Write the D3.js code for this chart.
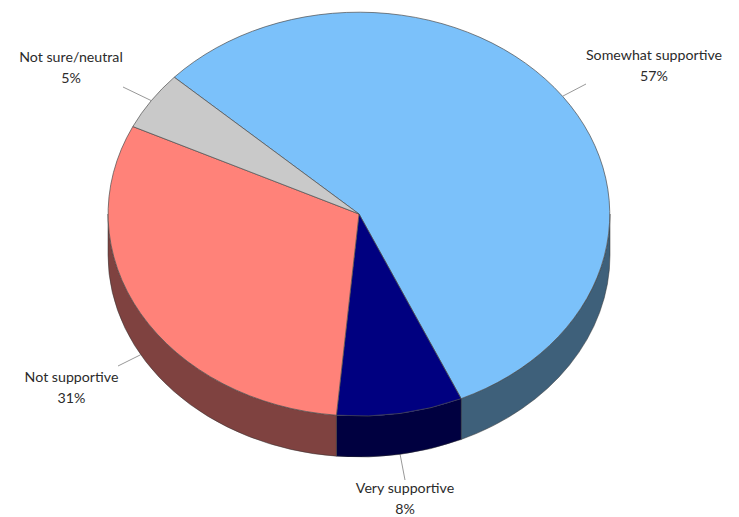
<!DOCTYPE html>
<html>
<head>
<meta charset="utf-8">
<script src="https://cdn.jsdelivr.net/npm/d3@7"></script>
<style>
	html, body {margin:0; padding:0; background:#fff;}
	svg {display:block;}
	text {font-family:Lato, "Open Sans", sans-serif; font-size:14.2px; fill:#2b2b2b;}
</style>
</head>
<body>
<script>
//chart values, slice sizes, labels as printed
const categories = ["Somewhat supportive", "Very supportive", "Not supportive", "Not sure/neutral"];
const shares = [56.5, 8.1, 30.7, 4.7];
const percentLabels = ["57%", "8%", "31%", "5%"];
const colors = ["#7bc1fa", "#000080", "#ff8279", "#c9c9c9"];
const wallColors = ["#3e607a", "#000040", "#7f4240", "#666666"];

//where each label sits, in the same order as categories
const labelX = [654, 405, 71.5, 71];
const labelY = [60, 493, 382, 62];
const leaderEndX = [586, 405, 118, 123];
const leaderEndY = [84, 480, 366, 87];

//page and pie geometry
const width = 739, height = 517;
const cx = 359, cy = 214, rx = 251, ry = 202, depth = 41;
const startAngle = -47.4 * Math.PI / 180;

//unit circle to page
const xScale = d3.scaleLinear().domain([-1, 1]).range([cx - rx, cx + rx]);
const yScale = d3.scaleLinear().domain([-1, 1]).range([cy - ry, cy + ry]);

const svg = d3.select("body")
	.append("svg")
	.attr("width", width)
	.attr("height", height);

const pie = d3.pie().sort(null).startAngle(startAngle).endAngle(startAngle + 2 * Math.PI);
const slices = pie(shares);

//point on the rim, angle measured clockwise from the top
function rimX(a){ return xScale(Math.sin(a)); }
function rimY(a){ return yScale(-Math.cos(a)); }

//side wall of a slice, only the part on the front half of the pie
function wallPath(d){
	const a0 = Math.max(d.startAngle, Math.PI / 2);
	const a1 = Math.min(d.endAngle, 3 * Math.PI / 2);
	if (a1 <= a0) return null;
	return "M" + rimX(a0) + "," + rimY(a0)
		+ "A" + rx + "," + ry + " 0 0 1 " + rimX(a1) + "," + rimY(a1)
		+ "L" + rimX(a1) + "," + (rimY(a1) + depth)
		+ "A" + rx + "," + ry + " 0 0 0 " + rimX(a0) + "," + (rimY(a0) + depth)
		+ "Z";
}

//leader lines
const leaders = svg.append("g");
leaders.selectAll("line")
	.data(slices)
	.enter().append("line")
	.attr("x1", function(d){ return rimX((d.startAngle + d.endAngle) / 2); })
	.attr("y1", function(d){
		const a = (d.startAngle + d.endAngle) / 2;
		return rimY(a) + (Math.cos(a) < 0 ? depth : 0);
	})
	.attr("x2", function(d, i){ return leaderEndX[i]; })
	.attr("y2", function(d, i){ return leaderEndY[i]; })
	.attr("stroke", "#8c8c8c")
	.attr("stroke-width", 0.9);

//side walls
svg.append("g")
	.selectAll("path")
	.data(slices.filter(wallPath))
	.enter().append("path")
	.attr("d", wallPath)
	.attr("fill", function(d){ return wallColors[d.index]; })
	.attr("stroke", "#333")
	.attr("stroke-width", 0.5);

//top of the pie, drawn on a unit circle and squashed to the ellipse
const arc = d3.arc().innerRadius(0).outerRadius(1);
svg.append("g")
	.attr("transform", "translate(" + cx + "," + cy + ") scale(" + rx + "," + ry + ")")
	.selectAll("path")
	.data(slices)
	.enter().append("path")
	.attr("d", arc)
	.attr("fill", function(d){ return colors[d.index]; })
	.attr("stroke", "#4d4d4d")
	.attr("stroke-width", 0.7)
	.attr("vector-effect", "non-scaling-stroke");

//labels
const labels = svg.append("g")
	.selectAll("text")
	.data(slices)
	.enter().append("text")
	.attr("text-anchor", "middle")
	.attr("x", function(d, i){ return labelX[i]; })
	.attr("y", function(d, i){ return labelY[i]; });

labels.append("tspan")
	.text(function(d, i){ return categories[i]; });

labels.append("tspan")
	.attr("x", function(d, i){ return labelX[i]; })
	.attr("dy", 20.5)
	.text(function(d, i){ return percentLabels[i]; });
</script>
</body>
</html>
